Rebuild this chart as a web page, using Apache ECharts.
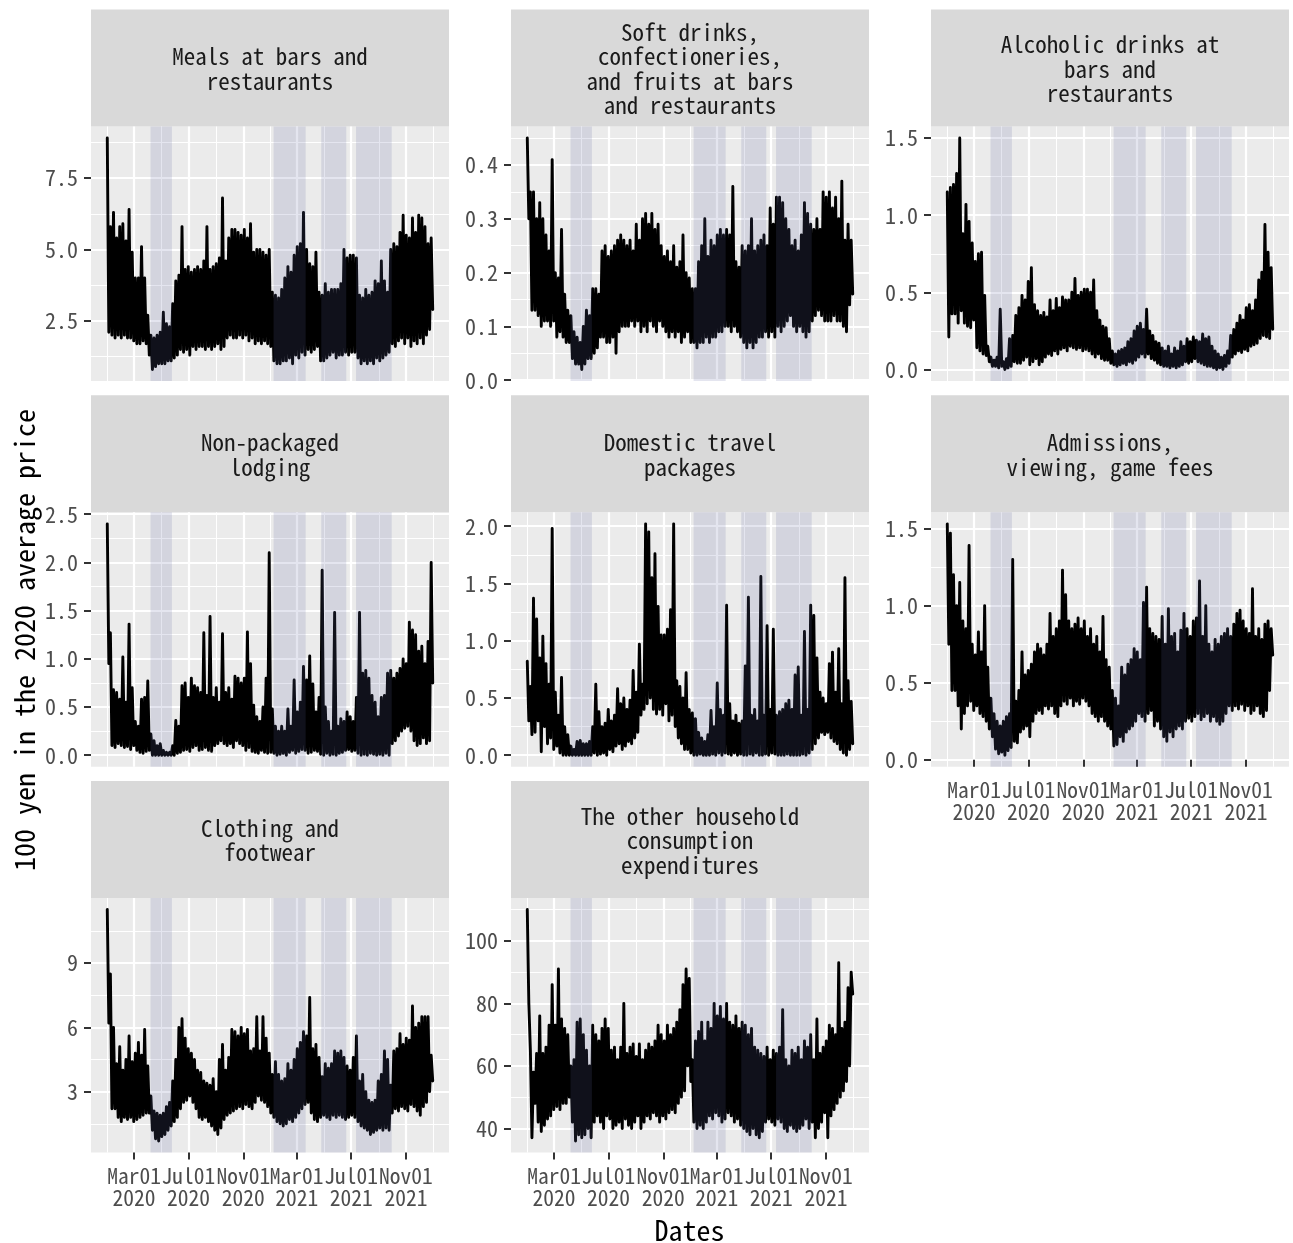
<!DOCTYPE html>
<html>
<head>
<meta charset="utf-8">
<script src="https://cdn.jsdelivr.net/npm/echarts@6/dist/echarts.min.js"></script>
<style>
  html, body { margin: 0; padding: 0; background: #ffffff; }
  #chart { width: 1293px; height: 1243px; }
</style>
</head>
<body>
<div id="chart"></div>
<script>
// ---- categories and tick labels ----
const panelTitles = [
  'Meals at bars and\nrestaurants',
  'Soft drinks,\nconfectioneries,\nand fruits at bars\nand restaurants',
  'Alcoholic drinks at\nbars and\nrestaurants',
  'Non-packaged\nlodging',
  'Domestic travel\npackages',
  'Admissions,\nviewing, game fees',
  'Clothing and\nfootwear',
  'The other household\nconsumption\nexpenditures'
];
const yTickLabels = [
  ['2.5', '5.0', '7.5'],
  ['0.0', '0.1', '0.2', '0.3', '0.4'],
  ['0.0', '0.5', '1.0', '1.5'],
  ['0.0', '0.5', '1.0', '1.5', '2.0', '2.5'],
  ['0.0', '0.5', '1.0', '1.5', '2.0'],
  ['0.0', '0.5', '1.0', '1.5'],
  ['3', '6', '9'],
  ['40', '60', '80', '100']
];
const xTickDates = ['2020-03-01', '2020-07-01', '2020-11-01', '2021-03-01', '2021-07-01', '2021-11-01'];
const xMinorDates = ['2020-01-01', '2020-05-01', '2020-09-01', '2021-01-01', '2021-05-01', '2021-09-01', '2022-01-01'];
// states of emergency
const emergencyPeriods = [
  ['2020-04-07', '2020-05-25'],
  ['2021-01-08', '2021-03-21'],
  ['2021-04-25', '2021-06-20'],
  ['2021-07-12', '2021-09-30']
];
const firstDay = '2020-01-01';
const lastDay = '2021-12-31';

// ---- weekly highs and lows of daily spending (100 yen) ----
const mealsHigh = [
  8.9, 5.8, 6.3, 5.4, 5.8, 5.9, 5.3, 6.4, 4.9, 4.0, 4.0, 5.1, 4.0, 2.7, 2.0,
  1.9, 2.0, 2.1, 2.8, 2.4, 2.3, 3.1, 3.9, 4.1, 5.8, 4.3, 4.4, 4.2, 4.3, 4.4,
  4.3, 4.6, 5.8, 4.3, 4.4, 4.5, 4.7, 6.8, 4.6, 5.4, 5.7, 5.7, 5.6, 5.5, 5.7,
  5.4, 5.9, 4.9, 5.0, 5.0, 4.9, 4.8, 5.0, 3.5, 3.4, 3.3, 3.6, 4.0, 4.4, 4.2,
  4.8, 5.1, 5.2, 6.3, 5.0, 4.5, 4.4, 4.9, 3.5, 3.4, 3.8, 3.5, 3.6, 3.6, 3.6,
  3.8, 5.0, 4.7, 4.8, 4.8, 4.7, 3.4, 3.3, 3.6, 3.4, 3.5, 3.9, 3.8, 4.6, 3.9,
  3.5, 5.0, 5.2, 5.1, 5.6, 6.2, 5.5, 5.4, 6.1, 5.6, 6.2, 6.1, 5.8, 5.2, 5.4
];
const mealsLow = [
  2.1, 2.0, 1.9, 2.0, 1.9, 2.0, 1.9, 1.9, 1.8, 1.7, 1.7, 1.8, 1.7, 1.3, 0.8,
  0.9, 1.0, 1.0, 1.0, 1.1, 1.1, 1.2, 1.3, 1.5, 1.4, 1.5, 1.3, 1.6, 1.5, 1.6,
  1.6, 1.5, 1.6, 1.5, 1.6, 1.7, 1.5, 1.6, 1.9, 2.0, 1.9, 1.9, 2.0, 1.9, 2.0,
  1.8, 1.9, 1.7, 1.8, 1.7, 1.8, 1.7, 1.6, 1.1, 1.0, 1.0, 1.1, 1.1, 1.2, 1.0,
  1.3, 1.2, 1.4, 1.3, 1.5, 1.4, 1.5, 1.6, 1.1, 1.1, 1.2, 1.3, 1.4, 1.2, 1.3,
  1.3, 1.4, 1.3, 1.4, 1.4, 1.2, 1.0, 1.1, 1.0, 1.1, 1.0, 1.2, 1.1, 1.2, 1.3,
  1.4, 1.7, 1.6, 1.8, 1.9, 1.7, 1.9, 1.6, 1.8, 1.7, 1.9, 1.7, 2.0, 2.2, 2.9
];
const softHigh = [
  0.45, 0.35, 0.35, 0.30, 0.33, 0.30, 0.27, 0.24, 0.41, 0.20, 0.19, 0.28, 0.16, 0.13, 0.12,
  0.09, 0.08, 0.07, 0.10, 0.13, 0.12, 0.17, 0.17, 0.16, 0.24, 0.25, 0.23, 0.24, 0.25, 0.26,
  0.27, 0.26, 0.25, 0.26, 0.24, 0.29, 0.26, 0.30, 0.31, 0.29, 0.31, 0.28, 0.29, 0.25, 0.23,
  0.24, 0.22, 0.25, 0.21, 0.22, 0.27, 0.20, 0.19, 0.17, 0.17, 0.22, 0.25, 0.30, 0.23, 0.26,
  0.25, 0.27, 0.28, 0.27, 0.28, 0.27, 0.36, 0.22, 0.21, 0.25, 0.24, 0.25, 0.30, 0.24, 0.25,
  0.26, 0.27, 0.25, 0.32, 0.29, 0.34, 0.34, 0.33, 0.30, 0.28, 0.25, 0.26, 0.24, 0.27, 0.33,
  0.31, 0.29, 0.28, 0.30, 0.28, 0.35, 0.34, 0.35, 0.32, 0.34, 0.30, 0.37, 0.26, 0.29, 0.26
];
const softLow = [
  0.30, 0.13, 0.13, 0.12, 0.10, 0.11, 0.11, 0.10, 0.11, 0.08, 0.09, 0.08, 0.07, 0.07, 0.04,
  0.03, 0.03, 0.02, 0.03, 0.04, 0.04, 0.05, 0.06, 0.08, 0.08, 0.07, 0.07, 0.08, 0.05, 0.09,
  0.10, 0.10, 0.10, 0.11, 0.10, 0.11, 0.09, 0.10, 0.09, 0.11, 0.10, 0.09, 0.11, 0.10, 0.09,
  0.08, 0.09, 0.08, 0.09, 0.07, 0.08, 0.09, 0.07, 0.07, 0.06, 0.07, 0.07, 0.08, 0.07, 0.08,
  0.08, 0.09, 0.09, 0.10, 0.10, 0.09, 0.10, 0.09, 0.08, 0.07, 0.06, 0.07, 0.06, 0.07, 0.08,
  0.08, 0.09, 0.08, 0.09, 0.08, 0.10, 0.09, 0.10, 0.11, 0.12, 0.10, 0.09, 0.10, 0.09, 0.08,
  0.09, 0.11, 0.12, 0.13, 0.12, 0.11, 0.11, 0.11, 0.12, 0.11, 0.11, 0.10, 0.09, 0.14, 0.16
];
const alcoholHigh = [
  1.15, 1.18, 1.20, 1.27, 1.50, 0.88, 1.07, 0.96, 0.82, 0.70, 0.75, 0.76, 0.48, 0.15, 0.08,
  0.06, 0.08, 0.39, 0.05, 0.07, 0.20, 0.22, 0.35, 0.40, 0.48, 0.45, 0.57, 0.66, 0.42, 0.38,
  0.35, 0.37, 0.34, 0.45, 0.38, 0.46, 0.40, 0.47, 0.45, 0.45, 0.50, 0.59, 0.48, 0.50, 0.52,
  0.52, 0.50, 0.58, 0.38, 0.32, 0.28, 0.27, 0.20, 0.12, 0.10, 0.12, 0.13, 0.14, 0.18, 0.20,
  0.25, 0.28, 0.30, 0.26, 0.39, 0.25, 0.22, 0.18, 0.17, 0.14, 0.12, 0.15, 0.10, 0.14, 0.12,
  0.18, 0.15, 0.20, 0.18, 0.21, 0.19, 0.18, 0.23, 0.20, 0.21, 0.15, 0.12, 0.10, 0.08, 0.09,
  0.12, 0.22, 0.26, 0.30, 0.35, 0.32, 0.40, 0.42, 0.38, 0.45, 0.58, 0.63, 0.94, 0.76, 0.66
];
const alcoholLow = [
  0.21, 0.36, 0.36, 0.30, 0.38, 0.30, 0.28, 0.27, 0.32, 0.14, 0.12, 0.10, 0.09, 0.05, 0.02,
  0.02, 0.01, 0.02, 0.00, 0.01, 0.02, 0.05, 0.04, 0.04, 0.06, 0.08, 0.03, 0.05, 0.07, 0.03,
  0.05, 0.08, 0.10, 0.09, 0.12, 0.10, 0.13, 0.14, 0.12, 0.15, 0.14, 0.13, 0.14, 0.12, 0.13,
  0.12, 0.10, 0.08, 0.10, 0.07, 0.06, 0.06, 0.04, 0.03, 0.02, 0.03, 0.04, 0.03, 0.05, 0.04,
  0.06, 0.08, 0.10, 0.08, 0.10, 0.07, 0.06, 0.04, 0.03, 0.02, 0.02, 0.01, 0.02, 0.01, 0.02,
  0.03, 0.05, 0.04, 0.05, 0.07, 0.05, 0.04, 0.03, 0.02, 0.02, 0.01, 0.00, 0.01, 0.00, 0.02,
  0.04, 0.08, 0.10, 0.12, 0.11, 0.13, 0.12, 0.15, 0.16, 0.17, 0.20, 0.22, 0.21, 0.20, 0.26
];
const lodgingHigh = [
  2.40, 1.27, 0.68, 0.65, 0.58, 1.02, 0.55, 1.36, 0.70, 0.35, 0.30, 0.58, 0.60, 0.77, 0.22,
  0.15, 0.10, 0.12, 0.05, 0.03, 0.03, 0.10, 0.36, 0.30, 0.72, 0.75, 0.60, 0.80, 0.72, 0.70,
  0.65, 1.27, 0.62, 1.44, 0.60, 0.70, 0.55, 1.26, 0.65, 0.70, 0.58, 0.82, 0.80, 0.75, 0.80,
  1.28, 0.95, 0.52, 0.40, 0.35, 0.50, 0.80, 2.10, 0.48, 0.30, 0.25, 0.30, 0.25, 0.48, 0.30,
  0.78, 0.45, 0.55, 0.92, 0.78, 1.03, 0.74, 0.45, 0.60, 1.92, 0.50, 0.35, 0.25, 1.48, 0.30,
  0.38, 0.35, 0.45, 0.40, 0.35, 0.60, 1.48, 0.85, 0.88, 0.80, 0.62, 0.55, 0.40, 0.60, 0.62,
  0.85, 0.88, 0.80, 0.85, 0.90, 1.00, 0.95, 1.38, 1.30, 1.25, 1.08, 1.13, 0.95, 1.18, 2.00
];
const lodgingLow = [
  0.95, 0.10, 0.08, 0.12, 0.10, 0.08, 0.09, 0.06, 0.10, 0.05, 0.03, 0.02, 0.04, 0.05, 0.00,
  0.00, 0.00, 0.00, 0.00, 0.00, 0.00, 0.00, 0.02, 0.03, 0.05, 0.06, 0.04, 0.08, 0.10, 0.05,
  0.06, 0.08, 0.05, 0.04, 0.10, 0.12, 0.15, 0.12, 0.10, 0.12, 0.08, 0.15, 0.12, 0.10, 0.05,
  0.08, 0.04, 0.03, 0.02, 0.05, 0.03, 0.02, 0.03, 0.02, 0.00, 0.01, 0.02, 0.00, 0.03, 0.05,
  0.02, 0.04, 0.06, 0.05, 0.02, 0.03, 0.05, 0.04, 0.01, 0.00, 0.02, 0.00, 0.01, 0.00, 0.02,
  0.03, 0.05, 0.06, 0.04, 0.05, 0.02, 0.00, 0.01, 0.00, 0.02, 0.01, 0.00, 0.01, 0.00, 0.02,
  0.00, 0.12, 0.15, 0.20, 0.25, 0.28, 0.30, 0.25, 0.15, 0.10, 0.12, 0.18, 0.12, 0.15, 0.75
];
const travelHigh = [
  0.82, 0.60, 1.37, 1.19, 0.85, 1.04, 0.80, 0.62, 1.98, 0.55, 0.35, 0.68, 0.25, 0.18, 0.08,
  0.05, 0.12, 0.13, 0.10, 0.10, 0.12, 0.25, 0.62, 0.38, 0.25, 0.28, 0.40, 0.30, 0.35, 0.58,
  0.45, 0.50, 0.40, 0.48, 0.74, 0.55, 0.97, 0.62, 2.02, 1.95, 1.55, 1.76, 1.30, 1.05, 1.05,
  1.10, 1.27, 2.02, 0.65, 0.60, 0.50, 0.72, 0.40, 0.37, 0.32, 0.20, 0.15, 0.12, 0.18, 0.39,
  0.25, 0.63, 0.40, 0.35, 1.31, 0.45, 0.30, 0.35, 0.28, 0.30, 0.78, 1.38, 0.35, 0.40, 0.30,
  1.56, 0.35, 1.13, 0.40, 1.10, 0.35, 0.38, 0.40, 0.45, 0.48, 0.40, 0.70, 0.77, 0.35, 1.08,
  0.40, 1.31, 1.22, 0.85, 0.55, 0.50, 0.45, 0.80, 0.90, 0.55, 0.93, 0.45, 1.55, 0.65, 0.47
];
const travelLow = [
  0.30, 0.18, 0.20, 0.30, 0.03, 0.25, 0.10, 0.15, 0.05, 0.08, 0.02, 0.00, 0.00, 0.00, 0.00,
  0.00, 0.00, 0.00, 0.00, 0.00, 0.00, 0.02, 0.00, 0.01, 0.02, 0.00, 0.05, 0.03, 0.08, 0.10,
  0.05, 0.08, 0.12, 0.10, 0.15, 0.20, 0.35, 0.40, 0.45, 0.50, 0.40, 0.36, 0.40, 0.35, 0.45,
  0.30, 0.35, 0.25, 0.15, 0.10, 0.05, 0.05, 0.02, 0.00, 0.00, 0.01, 0.00, 0.00, 0.00, 0.01,
  0.00, 0.02, 0.00, 0.02, 0.01, 0.00, 0.02, 0.00, 0.01, 0.00, 0.00, 0.01, 0.00, 0.02, 0.00,
  0.00, 0.01, 0.00, 0.02, 0.01, 0.00, 0.00, 0.00, 0.01, 0.00, 0.00, 0.00, 0.00, 0.01, 0.00,
  0.02, 0.05, 0.10, 0.15, 0.20, 0.18, 0.20, 0.15, 0.12, 0.10, 0.05, 0.02, 0.00, 0.05, 0.10
];
const admissionsHigh = [
  1.53, 1.47, 1.20, 1.00, 1.15, 0.90, 0.85, 1.39, 0.75, 0.68, 0.83, 0.70, 1.00, 0.60, 0.40,
  0.30, 0.25, 0.22, 0.25, 0.28, 0.30, 1.30, 0.38, 0.45, 0.70, 0.55, 0.58, 0.62, 0.70, 0.75,
  0.72, 0.68, 0.75, 0.95, 0.80, 0.85, 0.90, 1.23, 1.07, 0.90, 0.85, 0.88, 0.92, 0.85, 0.90,
  0.80, 0.85, 0.75, 0.80, 0.70, 0.93, 0.65, 0.60, 0.45, 0.40, 0.35, 0.60, 0.55, 0.62, 0.65,
  0.72, 0.70, 0.65, 1.02, 1.12, 0.85, 0.82, 0.80, 0.78, 0.93, 0.75, 0.98, 0.80, 0.82, 0.70,
  0.84, 0.95, 0.85, 0.80, 0.90, 0.92, 1.16, 0.80, 1.00, 0.75, 0.70, 0.78, 0.75, 0.80, 0.82,
  0.85, 0.80, 0.88, 0.95, 0.97, 0.90, 0.85, 0.82, 1.11, 0.80, 0.85, 0.78, 0.88, 0.90, 0.85
];
const admissionsLow = [
  0.75, 0.45, 0.45, 0.35, 0.20, 0.30, 0.35, 0.38, 0.32, 0.35, 0.30, 0.28, 0.25, 0.20, 0.15,
  0.07, 0.04, 0.05, 0.03, 0.06, 0.08, 0.12, 0.11, 0.18, 0.20, 0.22, 0.15, 0.25, 0.30, 0.32,
  0.30, 0.35, 0.33, 0.35, 0.30, 0.28, 0.35, 0.38, 0.36, 0.40, 0.35, 0.38, 0.36, 0.40, 0.38,
  0.35, 0.30, 0.28, 0.25, 0.28, 0.25, 0.22, 0.20, 0.09, 0.10, 0.15, 0.12, 0.18, 0.20, 0.22,
  0.25, 0.30, 0.28, 0.25, 0.30, 0.32, 0.22, 0.25, 0.20, 0.15, 0.12, 0.18, 0.15, 0.20, 0.22,
  0.20, 0.25, 0.27, 0.25, 0.28, 0.30, 0.26, 0.28, 0.30, 0.25, 0.28, 0.25, 0.23, 0.25, 0.30,
  0.35, 0.32, 0.35, 0.33, 0.36, 0.32, 0.35, 0.30, 0.32, 0.35, 0.30, 0.28, 0.32, 0.45, 0.68
];
const clothingHigh = [
  11.5, 8.5, 6.0, 4.3, 5.1, 4.0, 4.5, 5.6, 4.4, 4.8, 5.3, 4.7, 5.9, 4.2, 2.8,
  2.1, 2.0, 1.9, 2.0, 2.3, 2.5, 3.5, 4.5, 6.0, 6.4, 5.5, 5.0, 4.8, 4.5, 4.0,
  3.9, 3.5, 3.4, 3.3, 3.6, 3.0, 4.5, 5.2, 4.0, 4.6, 5.9, 5.8, 5.6, 6.0, 5.7,
  5.9, 4.9, 5.0, 6.5, 4.9, 6.5, 5.5, 4.8, 3.8, 4.4, 3.8, 3.5, 3.6, 4.3, 4.0,
  4.5, 5.0, 5.3, 5.8, 5.6, 7.4, 5.0, 5.2, 4.6, 3.7, 4.3, 4.1, 4.3, 4.9, 4.8,
  4.9, 4.6, 4.2, 4.0, 4.6, 5.6, 3.5, 3.8, 3.0, 2.6, 2.5, 2.6, 3.5, 3.8, 4.9,
  4.5, 3.3, 4.9, 5.0, 5.7, 5.2, 5.5, 5.4, 7.0, 6.0, 6.2, 6.5, 6.5, 6.5, 4.7
];
const clothingLow = [
  6.2, 2.2, 2.2, 1.8, 1.6, 1.8, 1.7, 1.8, 1.6, 1.7, 1.8, 1.9, 2.0, 2.0, 1.2,
  0.8, 0.7, 0.9, 1.0, 1.2, 1.4, 1.6, 1.8, 2.2, 2.5, 2.6, 2.8, 2.5, 2.2, 1.8,
  1.7, 1.8, 1.6, 1.4, 1.2, 1.0, 1.3, 1.7, 1.9, 2.0, 2.1, 2.2, 2.3, 2.2, 2.4,
  2.3, 2.2, 2.5, 2.8, 2.6, 2.5, 2.3, 2.0, 1.8, 1.6, 1.5, 1.4, 1.5, 1.7, 1.6,
  1.8, 2.0, 2.2, 2.4, 2.5, 2.0, 1.7, 1.6, 1.8, 1.9, 1.8, 1.7, 1.9, 1.8, 1.9,
  1.8, 1.7, 1.8, 1.9, 1.8, 1.6, 1.4, 1.3, 1.2, 1.0, 1.1, 1.2, 1.3, 1.2, 1.3,
  1.2, 2.0, 2.2, 2.1, 2.3, 2.2, 2.1, 2.4, 2.3, 2.1, 1.9, 2.3, 2.5, 3.0, 3.5
];
const otherHigh = [
  110, 65, 58, 64, 76, 64, 66, 73, 86, 73, 91, 75, 72, 70, 60,
  62, 74, 75, 70, 65, 60, 73, 70, 68, 72, 75, 72, 65, 66, 62,
  66, 80, 64, 66, 67, 63, 67, 62, 65, 67, 66, 68, 73, 70, 68,
  73, 70, 72, 74, 78, 86, 91, 88, 62, 68, 71, 74, 68, 74, 72,
  80, 76, 79, 75, 80, 74, 73, 76, 72, 74, 73, 70, 72, 66, 65,
  64, 63, 66, 62, 65, 64, 66, 78, 62, 60, 65, 64, 66, 62, 68,
  66, 70, 62, 75, 64, 66, 68, 73, 72, 70, 93, 72, 74, 85, 90
];
const otherLow = [
  80, 37, 48, 42, 39, 41, 43, 44, 46, 47, 46, 48, 48, 50, 42,
  36, 38, 37, 38, 40, 37, 42, 44, 42, 40, 44, 43, 40, 41, 42,
  40, 43, 41, 40, 42, 44, 40, 42, 44, 43, 45, 44, 42, 44, 43,
  45, 46, 45, 48, 50, 52, 60, 55, 42, 40, 41, 40, 42, 44, 43,
  45, 44, 42, 43, 45, 44, 42, 43, 41, 40, 39, 38, 40, 38, 37,
  39, 42, 43, 42, 41, 43, 42, 40, 39, 41, 40, 39, 40, 41, 43,
  40, 42, 37, 40, 42, 45, 37, 44, 46, 48, 50, 52, 55, 60, 83
];

const seriesHigh = [mealsHigh, softHigh, alcoholHigh, lodgingHigh, travelHigh, admissionsHigh, clothingHigh, otherHigh];
const seriesLow = [mealsLow, softLow, alcoholLow, lodgingLow, travelLow, admissionsLow, clothingLow, otherLow];

// ---- helpers ----
const FONT = '"Noto Sans Mono CJK JP", "Noto Sans CJK JP", "DejaVu Sans Mono", monospace';
const MONTHS = ['Jan', 'Feb', 'Mar', 'Apr', 'May', 'Jun', 'Jul', 'Aug', 'Sep', 'Oct', 'Nov', 'Dec'];

function toTime(s) {
  const p = s.split('-').map(Number);
  return Date.UTC(p[0], p[1] - 1, p[2]);
}
const t0 = toTime(firstDay);
const t1 = toTime(lastDay);
const span = t1 - t0;
const xMin = t0 - span * 0.05;
const xMax = t1 + span * 0.05;
const xMajor = xTickDates.map(toTime);
const xMinor = xMinorDates.map(toTime);

function fmtDate(v) {
  const d = new Date(v);
  return MONTHS[d.getUTCMonth()] + String(d.getUTCDate()).padStart(2, '0') + '\n' + d.getUTCFullYear();
}

// interleave each week's high and low as an evenly spaced path over the two years
function buildSeries(hi, lo) {
  const n = Math.min(hi.length, lo.length);
  const vals = [];
  for (let i = 0; i < n; i++) { vals.push(hi[i], lo[i]); }
  const step = span / (vals.length - 1);
  return vals.map((v, k) => [t0 + k * step, v]);
}

// ---- facet layout ----
const colLeft = [91, 511, 931];
const panelW = 358;
const rowTop = [126.5, 512.3, 898];
const panelH = 254.5;
const stripH = 117;
const labelledX = [5, 6, 7];

const grids = [], xAxes = [], yAxes = [], series = [], graphics = [];

panelTitles.forEach((title, i) => {
  const row = Math.floor(i / 3), col = i % 3;
  const left = colLeft[col], top = rowTop[row];
  grids.push({
    left: left, top: top, width: panelW, height: panelH,
    show: true, backgroundColor: '#EBEBEB', borderWidth: 0,
    containLabel: false, outerBoundsMode: 'none'
  });

  // strip header
  graphics.push({
    type: 'rect', silent: true,
    shape: { x: left, y: top - stripH, width: panelW, height: stripH },
    style: { fill: '#D9D9D9' }
  });
  graphics.push({
    type: 'text', silent: true, x: left + panelW / 2, y: top - stripH / 2 + 1,
    style: {
      text: title, fill: '#1A1A1A', fontSize: 23, fontFamily: FONT,
      align: 'center', verticalAlign: 'middle',
      lineHeight: 24.5
    }
  });

  const hi = seriesHigh[i], lo = seriesLow[i];
  const all = hi.concat(lo);
  const dMin = Math.min.apply(null, all), dMax = Math.max.apply(null, all);
  const pad = (dMax - dMin) * 0.05;
  const yMin = dMin - pad, yMax = dMax + pad;
  const labels = yTickLabels[i];
  const majors = labels.map(Number);
  const stepY = majors[1] - majors[0];
  const minors = majors.map(v => v - stepY / 2).concat([majors[majors.length - 1] + stepY / 2])
    .filter(v => v > yMin && v < yMax);
  const showX = labelledX.indexOf(i) >= 0;

  xAxes.push({
    gridIndex: i, type: 'value', min: xMin, max: xMax, position: 'bottom',
    axisLine: { show: false },
    axisTick: { show: showX, customValues: xMajor, length: 7, lineStyle: { color: '#333333', width: 2 } },
    axisLabel: {
      show: showX, customValues: xMajor, formatter: fmtDate, hideOverlap: false,
      showMinLabel: true, showMaxLabel: true,
      color: '#4D4D4D', fontSize: 21.5, fontFamily: FONT, lineHeight: 22, margin: 12
    },
    splitLine: { show: true, lineStyle: { color: '#FFFFFF', width: 2.2 } }
  });
  xAxes.push({
    gridIndex: i, type: 'value', min: xMin, max: xMax, position: 'top',
    axisLine: { show: false },
    axisTick: { show: false, customValues: xMinor },
    axisLabel: { show: false, customValues: xMinor },
    splitLine: { show: true, lineStyle: { color: '#FFFFFF', width: 1.1 } }
  });
  yAxes.push({
    gridIndex: i, type: 'value', min: yMin, max: yMax, position: 'left',
    axisLine: { show: false },
    axisTick: { show: true, customValues: majors, length: 7, lineStyle: { color: '#333333', width: 2 } },
    axisLabel: {
      customValues: majors, color: '#4D4D4D', fontSize: 22, fontFamily: FONT, margin: 13,
      showMinLabel: true, showMaxLabel: true,
      formatter: v => {
        const m = labels.find(s => Math.abs(Number(s) - v) < stepY * 1e-6);
        return m === undefined ? '' : m;
      }
    },
    splitLine: { show: true, lineStyle: { color: '#FFFFFF', width: 2.2 } }
  });
  yAxes.push({
    gridIndex: i, type: 'value', min: yMin, max: yMax, position: 'right',
    axisLine: { show: false },
    axisTick: { show: false, customValues: minors },
    axisLabel: { show: false, customValues: minors },
    splitLine: { show: true, lineStyle: { color: '#FFFFFF', width: 1.1 } }
  });

  series.push({
    type: 'line', xAxisIndex: 2 * i, yAxisIndex: 2 * i, z: 3,
    data: buildSeries(hi, lo),
    showSymbol: false, symbol: 'none', silent: true, animation: false,
    lineStyle: { color: '#000000', width: 2.9, join: 'round', cap: 'round' },
    markArea: {
      silent: true, z: 10,
      itemStyle: { color: 'rgba(95,100,160,0.17)', borderWidth: 0 },
      label: { show: false },
      emphasis: { disabled: true },
      data: emergencyPeriods.map(p => [{ xAxis: toTime(p[0]) }, { xAxis: toTime(p[1]) }])
    }
  });
});

// axis titles
graphics.push({
  type: 'text', silent: true, x: 24, y: 640, rotation: Math.PI / 2,
  style: {
    text: '100 yen in the 2020 average price', fill: '#000000', fontSize: 28, fontFamily: FONT,
    align: 'center', verticalAlign: 'middle'
  }
});
graphics.push({
  type: 'text', silent: true, x: 689.5, y: 1230,
  style: {
    text: 'Dates', fill: '#000000', fontSize: 28, fontFamily: FONT,
    align: 'center', verticalAlign: 'middle'
  }
});

const chart = echarts.init(document.getElementById('chart'), null, { renderer: 'canvas' });
chart.setOption({
  animation: false,
  backgroundColor: '#FFFFFF',
  textStyle: { fontFamily: FONT },
  grid: grids,
  xAxis: xAxes,
  yAxis: yAxes,
  series: series,
  graphic: { elements: graphics }
});
</script>
</body>
</html>
